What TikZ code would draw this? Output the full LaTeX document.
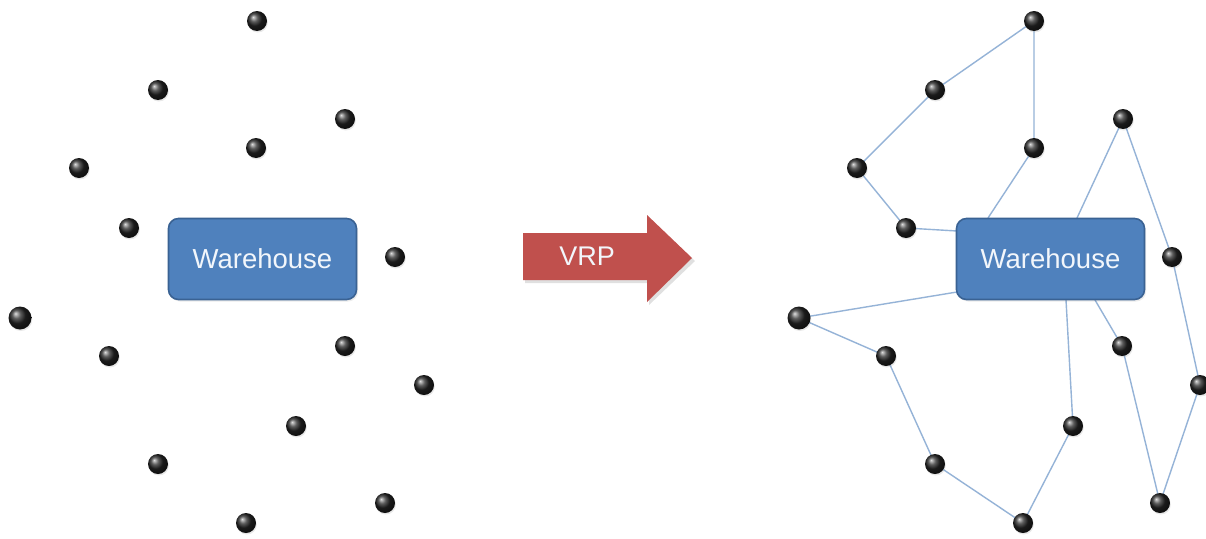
\documentclass[tikz,border=0pt]{standalone}
\usepackage{fontspec}
\setmainfont{Liberation Sans}
\usetikzlibrary{shadows}
\pgfdeclarelayer{bgzero}
\pgfdeclarelayer{routes}
\pgfsetlayers{bgzero,routes,main}
\definecolor{boxblue}{HTML}{4F81BD}
\definecolor{boxedge}{HTML}{3A6293}
\definecolor{arrred}{HTML}{C0504D}
\definecolor{routeblue}{HTML}{95B3D7}
\definecolor{txtwhite}{HTML}{F2F6FB}
\tikzset{
  dot/.style={circle, inner sep=0pt, minimum size=20pt, ball color=black!85, draw=none,
    drop shadow={opacity=0.18, shadow xshift=0.8pt, shadow yshift=-1.5pt}},
  bigdot/.style={dot, minimum size=23pt},
  whbox/.style={rectangle, rounded corners=10pt, fill=boxblue, draw=boxedge, line width=1.6pt,
    minimum width=188pt, minimum height=81pt, text=txtwhite,
    font=\fontsize{27.5}{32}\selectfont,
    drop shadow={opacity=0.15, shadow xshift=1.5pt, shadow yshift=-2pt}},
  route/.style={draw=routeblue, line width=1.4pt},
  vrptext/.style={text=txtwhite, font=\fontsize{27}{32}\selectfont, inner sep=0pt}
}
\begin{document}
\begin{tikzpicture}[x=1pt,y=-1pt]
\useasboundingbox (0,0) rectangle (1206,538);
\begin{pgfonlayer}{bgzero}
\fill[white] (0,0) rectangle (1206,538);
\end{pgfonlayer}

% ---------- left side ----------
\node[whbox] (wl) at (262.5,259) {Warehouse};
\node[dot] (l1) at (257,21) {};
\node[dot] (l2) at (158,90) {};
\node[dot] (l3) at (345,119) {};
\node[dot] (l4) at (256,148) {};
\node[dot] (l5) at (79,168) {};
\node[dot] (l6) at (129,228) {};
\node[dot] (l7) at (395,257) {};
\node[bigdot] (l8) at (20,318) {};
\node[dot] (l9) at (109,356) {};
\node[dot] (l10) at (345,346) {};
\node[dot] (l11) at (424,385) {};
\node[dot] (l12) at (296,426) {};
\node[dot] (l13) at (158,464) {};
\node[dot] (l14) at (385,503) {};
\node[dot] (l15) at (246,523) {};

% ---------- arrow ----------
\fill[black, opacity=0.12] (525,236) -- (649,236) -- (649,218) -- (695,261) -- (649,305) -- (649,283) -- (525,283) -- cycle;
\fill[arrred] (523,233) -- (647,233) -- (647,215) -- (692,258) -- (647,302) -- (647,280) -- (523,280) -- cycle;
\node[vrptext] (vrp) at (587,256) {VRP};

% ---------- right side ----------
\node[dot] (A) at (1034,21) {};
\node[dot] (B) at (935,90) {};
\node[dot] (C) at (857,168) {};
\node[dot] (D) at (906,228) {};
\node[dot] (E) at (1034,148) {};
\node[dot] (F) at (1123,119) {};
\node[dot] (G) at (1172,257) {};
\node[dot] (H) at (1200,385) {};
\node[dot] (I) at (1160,503) {};
\node[dot] (J) at (1122,346) {};
\node[bigdot] (K) at (799,318) {};
\node[dot] (L) at (886,356) {};
\node[dot] (M) at (935,464) {};
\node[dot] (N) at (1023,523) {};
\node[dot] (O) at (1073,426) {};

\coordinate (pD) at (957,231);
\coordinate (pE) at (988,218);
\coordinate (pF) at (1077,218);
\coordinate (pJ) at (1095,300);
\coordinate (pO) at (1066,300);
\coordinate (pK) at (957,292);

\begin{pgfonlayer}{routes}
\path[route] (pE) -- (E.center) -- (A.center) -- (B.center) -- (C.center) -- (D.center) -- (pD);
\path[route] (pF) -- (F.center) -- (G.center) -- (H.center) -- (I.center) -- (J.center) -- (pJ);
\path[route] (pO) -- (O.center) -- (N.center) -- (M.center) -- (L.center) -- (K.center) -- (pK);
\end{pgfonlayer}

\node[whbox] (wr) at (1050.5,259) {Warehouse};
\end{tikzpicture}
\end{document}
